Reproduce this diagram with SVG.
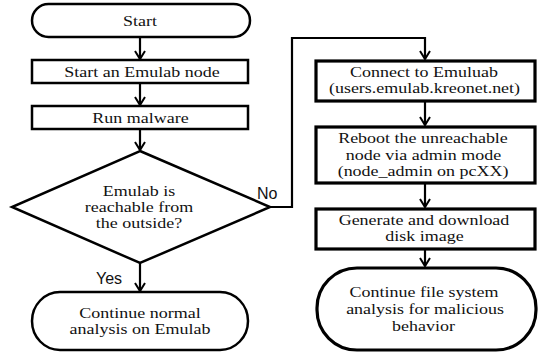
<svg xmlns="http://www.w3.org/2000/svg" width="538" height="353" viewBox="0 0 538 353">
<style>
.shape{fill:#fff;stroke:#000;stroke-width:2.5}
.thick{fill:#fff;stroke:#000;stroke-width:3.2}
.t{font-size:14.5px;fill:#111;text-anchor:middle}
.lbl{font-size:16px;fill:#111}
.c{fill:none;stroke:#000;stroke-width:2.2}
.ah{fill:none;stroke:#000;stroke-width:2}
</style>
<rect width="538" height="353" fill="#fff"/>
<g id="connectors">
<line class="c" x1="140" y1="37" x2="140" y2="59"/>
<path class="ah" d="M135,51 L140,59 L145,51"/>
<line class="c" x1="140" y1="83" x2="140" y2="105"/>
<path class="ah" d="M135,97 L140,105 L145,97"/>
<line class="c" x1="140" y1="129" x2="140" y2="150"/>
<path class="ah" d="M135,142 L140,150 L145,142"/>
<line class="c" x1="140" y1="263" x2="140" y2="291"/>
<path class="ah" d="M135,283 L140,291 L145,283"/>
<polyline class="c" points="270,207 292,207 292,38 425,38 425,59"/>
<path class="ah" d="M420,51 L425,59 L430,51"/>
<line class="c" x1="425" y1="101" x2="425" y2="125"/>
<path class="ah" d="M420,117 L425,125 L430,117"/>
<line class="c" x1="425" y1="183" x2="425" y2="207"/>
<path class="ah" d="M420,199 L425,207 L430,199"/>
<line class="c" x1="425" y1="249" x2="425" y2="266"/>
<path class="ah" d="M420,258 L425,266 L430,258"/>
<text class="lbl" font-family="Liberation Sans, Arial, sans-serif" x="257" y="199">No</text>
<text class="lbl" font-family="Liberation Sans, Arial, sans-serif" x="96" y="284">Yes</text>
</g>
<g font-family="Liberation Serif, Times New Roman, serif">
<g id="start">
<rect class="shape" x="32" y="4" width="218" height="33" rx="16.5" ry="16.5"/>
<text class="t" transform="translate(140 26) scale(1.24 1)">Start</text>
</g>
<g id="start-node">
<rect class="shape" x="32" y="60" width="216" height="23"/>
<text class="t" transform="translate(142 77) scale(1.24 1)">Start an Emulab  node</text>
</g>
<g id="run-malware">
<rect class="shape" x="32" y="106" width="216" height="23"/>
<text class="t" transform="translate(140.5 123) scale(1.24 1)">Run malware</text>
</g>
<g id="decision">
<polygon class="shape" points="140,151 270,207 140,263 12,207"/>
<text class="t" transform="translate(139 196) scale(1.24 1)">Emulab is</text>
<text class="t" transform="translate(139 212) scale(1.24 1)">reachable from</text>
<text class="t" transform="translate(139 228) scale(1.24 1)">the outside?</text>
</g>
<g id="continue-normal">
<rect class="shape" x="32" y="292" width="216" height="58" rx="28" ry="29"/>
<text class="t" transform="translate(140 318) scale(1.24 1)">Continue normal</text>
<text class="t" transform="translate(140 334) scale(1.24 1)">analysis on Emulab</text>
</g>
<g id="connect">
<rect class="thick" x="316" y="61" width="219" height="40"/>
<text class="t" transform="translate(424 77) scale(1.24 1)">Connect to Emuluab</text>
<text class="t" transform="translate(424.5 93) scale(1.24 1)">(users.emulab.kreonet.net)</text>
</g>
<g id="reboot">
<rect class="thick" x="316" y="127" width="219" height="56"/>
<text class="t" transform="translate(423 143) scale(1.24 1)">Reboot the unreachable</text>
<text class="t" transform="translate(423.5 160) scale(1.24 1)">node via admin mode</text>
<text class="t" transform="translate(423 176) scale(1.24 1)">(node_admin on pcXX)</text>
</g>
<g id="generate">
<rect class="thick" x="316" y="209" width="219" height="40"/>
<text class="t" transform="translate(424 225) scale(1.24 1)">Generate and download</text>
<text class="t" transform="translate(424.5 241) scale(1.24 1)">disk image</text>
</g>
<g id="continue-fs">
<rect class="thick" x="317" y="268" width="219" height="82" rx="40" ry="40"/>
<text class="t" transform="translate(424 297) scale(1.24 1)">Continue file system</text>
<text class="t" transform="translate(425 314) scale(1.24 1)">analysis for malicious</text>
<text class="t" transform="translate(423.5 331) scale(1.24 1)">behavior</text>
</g>
</g>
</svg>
